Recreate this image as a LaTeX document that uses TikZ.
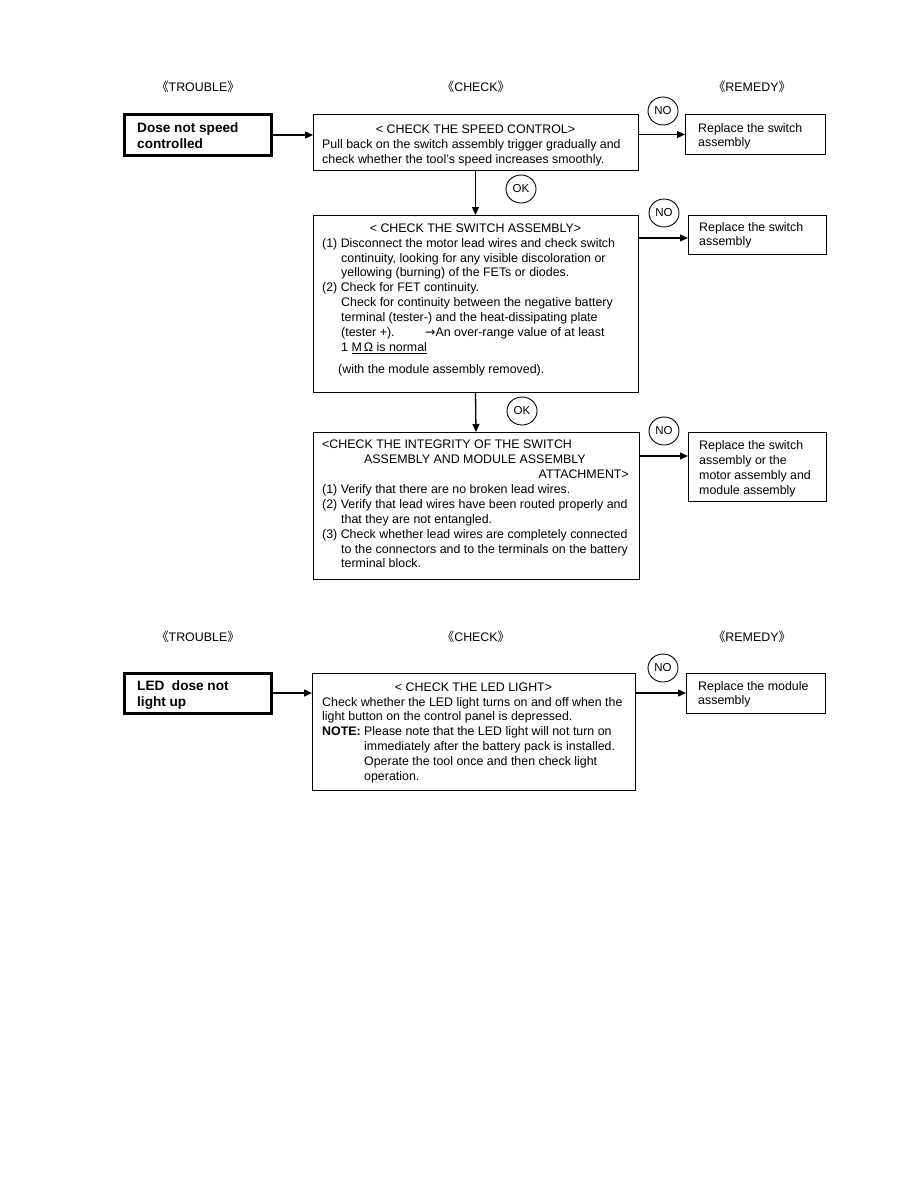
\documentclass[tikz,border=0pt]{standalone}
\usepackage{fontspec}
\setmainfont{Liberation Sans}
\newfontfamily\cjk{Noto Sans CJK SC}
\newfontfamily\djv{DejaVu Sans}
\usetikzlibrary{shapes.geometric,arrows.meta}
\tikzset{
  txt/.style={font=\fontsize{12.4}{14.8}\selectfont, inner sep=0pt, anchor=base west},
  btxt/.style={font=\fontsize{13.6}{16}\selectfont\bfseries, inner sep=0pt, anchor=base west},
  hdr/.style={font=\fontsize{12.4}{14.8}\selectfont, inner sep=0pt},
  chkbox/.style={draw, line width=1pt, inner sep=0pt, outer sep=0pt, anchor=north west},
  trbox/.style={draw, line width=3pt, inner sep=0pt, outer sep=0pt, anchor=north west},
  oval/.style={draw, ellipse, line width=0.9pt, minimum width=30pt, minimum height=28pt, inner sep=0pt, font=\fontsize{11.5}{12}\selectfont},
  arr/.style={line width=1.3pt, -{Triangle[length=8pt,width=7pt]}}
}
\newcommand\TXT[3]{\node[txt] (#1) at (#2) {#3};}
\begin{document}
\begin{tikzpicture}[x=1pt,y=-1pt]
\path[fill=white] (0,0) rectangle (918,1188);
\useasboundingbox (0,0) rectangle (918,1188);

% ---------- headers (top) ----------
\node[hdr] (h1) at (198,87) {{\cjk 《}TROUBLE{\cjk 》}};
\node[hdr] (h2) at (476,87) {{\cjk 《}CHECK{\cjk 》}};
\node[hdr] (h3) at (752,87) {{\cjk 《}REMEDY{\cjk 》}};

% ---------- boxes (top) ----------
\node[trbox, minimum width=147pt, minimum height=40pt] (t1) at (124,115) {};
\node[chkbox, minimum width=325pt, minimum height=55pt] (c1) at (313,115) {};
\node[chkbox, minimum width=140pt, minimum height=39pt] (r1) at (685,115) {};
\node[chkbox, minimum width=325pt, minimum height=177pt] (c2) at (313,215) {};
\node[chkbox, minimum width=138pt, minimum height=39pt] (r2) at (688,215) {};
\node[chkbox, minimum width=326pt, minimum height=147pt] (c3) at (313,432) {};
\node[chkbox, minimum width=138pt, minimum height=69pt] (r3) at (688,432) {};

% trouble 1
\node[btxt] (t1a) at (137,132) {Dose not speed};
\node[btxt] (t1b) at (137,148) {controlled};

% check 1
\node[txt, anchor=base] (c1a) at (475.5,133.5) {< CHECK THE SPEED CONTROL>};
\TXT{c1b}{322,148.5}{Pull back on the switch assembly trigger gradually and}
\TXT{c1c}{322,163.5}{check whether the tool’s speed increases smoothly.}

% remedy 1
\TXT{r1a}{698,132.5}{Replace the switch}
\TXT{r1b}{698,146.5}{assembly}

% check 2
\node[txt, anchor=base] (c2a) at (475.5,232.5) {< CHECK THE SWITCH ASSEMBLY>};
\TXT{c2b}{322,247.5}{(1) Disconnect the motor lead wires and check switch}
\TXT{c2c}{341,262.5}{continuity, looking for any visible discoloration or}
\TXT{c2d}{341,276.5}{yellowing (burning) of the FETs or diodes.}
\TXT{c2e}{322,291.5}{(2) Check for FET continuity.}
\TXT{c2f}{341,306.5}{Check for continuity between the negative battery}
\TXT{c2g}{341,321.5}{terminal (tester-) and the heat-dissipating plate}
\TXT{c2h}{341,336.5}{(tester +).}
\TXT{c2i}{425,336.5}{{\djv →}An over-range value of at least}
\TXT{c2j}{341,351.5}{1 \underline{M\,Ω is normal}}
\TXT{c2k}{338,373.5}{(with the module assembly removed).}

% remedy 2
\TXT{r2a}{699,231.5}{Replace the switch}
\TXT{r2b}{699,245.5}{assembly}

% check 3
\TXT{c3a}{322,448.5}{<CHECK THE INTEGRITY OF THE SWITCH}
\TXT{c3b}{364,463.5}{ASSEMBLY AND MODULE ASSEMBLY}
\node[txt, anchor=base east] (c3c) at (629,478.5) {ATTACHMENT>};
\TXT{c3d}{322,493.5}{(1) Verify that there are no broken lead wires.}
\TXT{c3e}{322,508.5}{(2) Verify that lead wires have been routed properly and}
\TXT{c3f}{341,523.5}{that they are not entangled.}
\TXT{c3g}{322,538.5}{(3) Check whether lead wires are completely connected}
\TXT{c3h}{341,553.5}{to the connectors and to the terminals on the battery}
\TXT{c3i}{341,567.5}{terminal block.}

% remedy 3
\TXT{r3a}{699,449.5}{Replace the switch}
\TXT{r3b}{699,464.5}{assembly or the}
\TXT{r3c}{699,479.5}{motor assembly and}
\TXT{r3d}{699,494.5}{module assembly}

% connectors (top)
\draw[arr] (t1.east) -- (t1.east -| c1.west);
\draw[arr] (c1.east |- r1.west) -- (r1.west);
\draw[arr] (c1.south) -- (c2.north);
\draw[arr] (c2.east |- 0,238) -- (r2.west |- 0,238);
\draw[arr] (c2.south) -- (c3.north);
\draw[arr] (c3.east |- 0,456) -- (r3.west |- 0,456);

\node[oval] (no1) at (663,111) {NO};
\node[oval] (ok1) at (521,189) {OK};
\node[oval] (no2) at (664,213) {NO};
\node[oval] (ok2) at (522,411) {OK};
\node[oval] (no3) at (664,431) {NO};

% ---------- bottom section ----------
\node[hdr] (h4) at (198,637) {{\cjk 《}TROUBLE{\cjk 》}};
\node[hdr] (h5) at (476,637) {{\cjk 《}CHECK{\cjk 》}};
\node[hdr] (h6) at (752,637) {{\cjk 《}REMEDY{\cjk 》}};

\node[trbox, minimum width=147pt, minimum height=40pt] (t2) at (124,673) {};
\node[chkbox, minimum width=323pt, minimum height=117pt] (c4) at (312,673) {};
\node[chkbox, minimum width=139pt, minimum height=40pt] (r4) at (686,673) {};

\node[btxt] (t2a) at (137,690) {LED\ \ dose not};
\node[btxt] (t2b) at (137,706) {light up};

\node[txt, anchor=base] (c4a) at (473.5,691.5) {< CHECK THE LED LIGHT>};
\TXT{c4b}{322,706.5}{Check whether the LED light turns on and off when the}
\TXT{c4c}{322,720.5}{light button on the control panel is depressed.}
\TXT{c4d}{322,735.5}{\bfseries NOTE:}
\TXT{c4e}{364,735.5}{Please note that the LED light will not turn on}
\TXT{c4f}{364,750.5}{immediately after the battery pack is installed.}
\TXT{c4g}{364,765.5}{Operate the tool once and then check light}
\TXT{c4h}{364,780.5}{operation.}

\TXT{r4a}{698,690.5}{Replace the module}
\TXT{r4b}{698,704.5}{assembly}

\draw[arr] (t2.east) -- (t2.east -| c4.west);
\draw[arr] (c4.east |- r4.west) -- (r4.west);
\node[oval] (no4) at (663,668) {NO};
\end{tikzpicture}
\end{document}
